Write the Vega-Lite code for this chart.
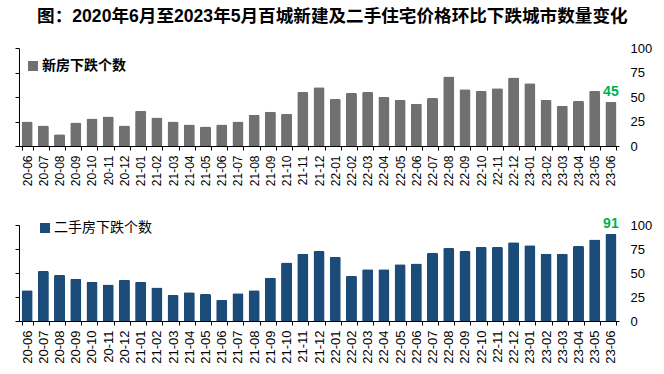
{
  "$schema": "https://vega.github.io/schema/vega-lite/v6.json",
  "padding": {"left": 13, "top": 8, "right": 5, "bottom": 0},
  "background": "#ffffff",
  "title": {
    "text": "图：2020年6月至2023年5月百城新建及二手住宅价格环比下跌城市数量变化",
    "font": "Liberation Sans, Noto Sans CJK SC",
    "fontSize": 17.6,
    "fontWeight": "bold",
    "color": "#000000",
    "anchor": "middle",
    "offset": 16
  },
  "datasets": {
    "d": [
      {"month": "20-06", "new_home": 25, "second_home": 32},
      {"month": "20-07", "new_home": 21, "second_home": 52},
      {"month": "20-08", "new_home": 12, "second_home": 48},
      {"month": "20-09", "new_home": 24, "second_home": 44},
      {"month": "20-10", "new_home": 28, "second_home": 41},
      {"month": "20-11", "new_home": 30, "second_home": 38},
      {"month": "20-12", "new_home": 21, "second_home": 43},
      {"month": "21-01", "new_home": 36, "second_home": 41},
      {"month": "21-02", "new_home": 29, "second_home": 35},
      {"month": "21-03", "new_home": 25, "second_home": 27},
      {"month": "21-04", "new_home": 22, "second_home": 30},
      {"month": "21-05", "new_home": 20, "second_home": 28},
      {"month": "21-06", "new_home": 22, "second_home": 22},
      {"month": "21-07", "new_home": 25, "second_home": 29},
      {"month": "21-08", "new_home": 32, "second_home": 32},
      {"month": "21-09", "new_home": 35, "second_home": 45},
      {"month": "21-10", "new_home": 33, "second_home": 61},
      {"month": "21-11", "new_home": 55, "second_home": 70},
      {"month": "21-12", "new_home": 60, "second_home": 73},
      {"month": "22-01", "new_home": 48, "second_home": 67},
      {"month": "22-02", "new_home": 54, "second_home": 47},
      {"month": "22-03", "new_home": 55, "second_home": 54},
      {"month": "22-04", "new_home": 50, "second_home": 54},
      {"month": "22-05", "new_home": 47, "second_home": 59},
      {"month": "22-06", "new_home": 43, "second_home": 60},
      {"month": "22-07", "new_home": 49, "second_home": 71},
      {"month": "22-08", "new_home": 71, "second_home": 76},
      {"month": "22-09", "new_home": 58, "second_home": 73},
      {"month": "22-10", "new_home": 56, "second_home": 77},
      {"month": "22-11", "new_home": 59, "second_home": 77},
      {"month": "22-12", "new_home": 70, "second_home": 82},
      {"month": "23-01", "new_home": 64, "second_home": 79},
      {"month": "23-02", "new_home": 47, "second_home": 70},
      {"month": "23-03", "new_home": 41, "second_home": 70},
      {"month": "23-04", "new_home": 46, "second_home": 78},
      {"month": "23-05", "new_home": 56, "second_home": 85},
      {"month": "23-06", "new_home": 45, "second_home": 91}
    ]
  },
  "spacing": 30,
  "vconcat": [
    {
      "data": {"name": "d"},
      "width": 600,
      "height": 98,
      "layer": [
        {
          "mark": {"type": "bar", "color": "#707070", "cornerRadiusEnd": 1.5},
          "encoding": {
            "x": {
              "field": "month", "type": "ordinal", "sort": null,
              "scale": {"paddingInner": 0.32, "paddingOuter": 0.16},
              "axis": {"title": null, "labelAngle": -90, "labelFontSize": 12, "labelPadding": 5, "labelFont": "Liberation Sans", "labelColor": "#000000", "tickBand": "extent", "tickSize": 4, "domainColor": "#000000", "tickColor": "#000000"}
            },
            "y": {
              "field": "new_home", "type": "quantitative",
              "scale": {"domain": [0, 100]},
              "axis": {"orient": "left", "title": null, "labels": false, "grid": false, "values": [0, 25, 50, 75, 100], "domainColor": "#000000", "tickColor": "#000000", "tickSize": 4}
            },
            "color": {
              "datum": "新房下跌个数",
              "scale": {"range": ["#707070"]},
              "legend": {"orient": "none", "legendX": 7, "legendY": 11, "title": null, "symbolType": "square", "symbolSize": 100, "symbolStrokeWidth": 0, "labelFont": "Noto Sans CJK SC", "labelFontSize": 14, "labelFontWeight": "bold", "labelColor": "#000000", "labelOffset": 2, "padding": 0}
            }
          }
        },
        {
          "transform": [{"filter": "datum.month === '23-06'"}],
          "mark": {"type": "text", "dy": -10, "font": "Liberation Sans", "fontSize": 14, "fontWeight": "bold", "color": "#00b050"},
          "encoding": {
            "x": {"field": "month", "type": "ordinal", "sort": null},
            "y": {
              "field": "new_home", "type": "quantitative",
              "scale": {"domain": [0, 100]},
              "axis": {"orient": "right", "title": null, "grid": false, "values": [0, 25, 50, 75, 100], "domain": false, "ticks": false, "labelPadding": 11, "labelFont": "Liberation Sans", "labelFontSize": 13, "labelColor": "#000000"}
            },
            "text": {"field": "new_home"}
          }
        }
      ],
      "resolve": {"scale": {"y": "independent"}, "axis": {"y": "independent"}}
    },
    {
      "data": {"name": "d"},
      "width": 600,
      "height": 96,
      "layer": [
        {
          "mark": {"type": "bar", "color": "#1b4b78", "cornerRadiusEnd": 1.5},
          "encoding": {
            "x": {
              "field": "month", "type": "ordinal", "sort": null,
              "scale": {"paddingInner": 0.32, "paddingOuter": 0.16},
              "axis": {"title": null, "labelAngle": -90, "labelFontSize": 13, "labelPadding": 5, "labelFont": "Liberation Sans", "labelColor": "#000000", "tickBand": "extent", "tickSize": 4, "domainColor": "#000000", "tickColor": "#000000"}
            },
            "y": {
              "field": "second_home", "type": "quantitative",
              "scale": {"domain": [0, 100]},
              "axis": {"orient": "left", "title": null, "labels": false, "grid": false, "values": [0, 25, 50, 75, 100], "domainColor": "#000000", "tickColor": "#000000", "tickSize": 4}
            },
            "color": {
              "datum": "二手房下跌个数",
              "scale": {"range": ["#1b4b78"]},
              "legend": {"orient": "none", "legendX": 19, "legendY": -4, "title": null, "symbolType": "square", "symbolSize": 100, "symbolStrokeWidth": 0, "labelFont": "Noto Sans CJK SC", "labelFontSize": 14, "labelColor": "#000000", "labelOffset": 2, "padding": 0}
            }
          }
        },
        {
          "transform": [{"filter": "datum.month === '23-06'"}],
          "mark": {"type": "text", "dy": -10, "font": "Liberation Sans", "fontSize": 14, "fontWeight": "bold", "color": "#00b050"},
          "encoding": {
            "x": {"field": "month", "type": "ordinal", "sort": null},
            "y": {
              "field": "second_home", "type": "quantitative",
              "scale": {"domain": [0, 100]},
              "axis": {"orient": "right", "title": null, "grid": false, "values": [0, 25, 50, 75, 100], "domain": false, "ticks": false, "labelPadding": 11, "labelFont": "Liberation Sans", "labelFontSize": 13, "labelColor": "#000000"}
            },
            "text": {"field": "second_home"}
          }
        }
      ],
      "resolve": {"scale": {"y": "independent"}, "axis": {"y": "independent"}}
    }
  ],
  "resolve": {"scale": {"color": "independent"}, "legend": {"color": "independent"}},
  "config": {
    "view": {"stroke": null}
  }
}
